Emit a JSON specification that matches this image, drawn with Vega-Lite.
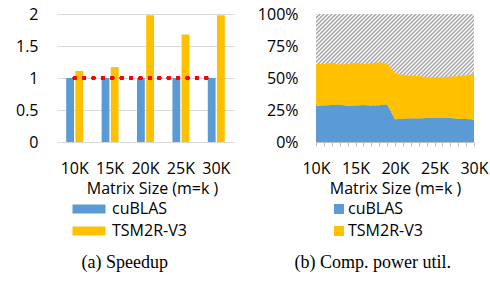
{
  "$schema": "https://vega.github.io/schema/vega-lite/v6.json",
  "background": "white",
  "padding": {"left": 15, "top": 6, "right": 0, "bottom": 0},
  "spacing": 23,
  "config": {
    "font": "Open Sans",
    "view": {"stroke": null},
    "axis": {"labelFont": "Open Sans", "labelFontSize": 16, "labelColor": "#000", "titleFont": "Open Sans", "titleFontSize": 16, "titleFontWeight": "normal", "titleColor": "#000"},
    "legend": {"labelFont": "Open Sans", "labelFontSize": 16, "labelColor": "#000"},
    "title": {"font": "Liberation Serif", "fontSize": 18, "fontWeight": "normal", "color": "#000", "orient": "bottom", "anchor": "middle", "frame": "bounds", "offset": 15}
  },
  "resolve": {"scale": {"color": "independent"}, "legend": {"color": "independent"}},
  "hconcat": [
    {
      "title": {"text": "(a) Speedup"},
      "width": 177,
      "height": 128,
      "data": {"values": [
        {"size": "10K", "impl": "cuBLAS", "speedup": 1},
        {"size": "10K", "impl": "TSM2R-V3", "speedup": 1.11},
        {"size": "15K", "impl": "cuBLAS", "speedup": 1},
        {"size": "15K", "impl": "TSM2R-V3", "speedup": 1.17},
        {"size": "20K", "impl": "cuBLAS", "speedup": 1},
        {"size": "20K", "impl": "TSM2R-V3", "speedup": 1.98},
        {"size": "25K", "impl": "cuBLAS", "speedup": 1},
        {"size": "25K", "impl": "TSM2R-V3", "speedup": 1.68},
        {"size": "30K", "impl": "cuBLAS", "speedup": 1},
        {"size": "30K", "impl": "TSM2R-V3", "speedup": 1.98}
      ]},
      "resolve": {"axis": {"x": "independent", "y": "independent"}},
      "layer": [
        {
          "mark": {"type": "bar"},
          "encoding": {
            "x": {"field": "size", "type": "nominal", "scale": {"paddingInner": 0.52, "paddingOuter": 0.26},
                  "axis": {"title": "Matrix Size (m=k )", "labelAngle": 0, "domain": false, "ticks": false, "labelPadding": 18, "titlePadding": 4, "titleX": 95}},
            "xOffset": {"field": "impl", "type": "nominal", "sort": ["cuBLAS", "TSM2R-V3"], "scale": {"paddingInner": 0.15}},
            "y": {"field": "speedup", "type": "quantitative", "scale": {"domain": [0, 2]},
                  "axis": {"title": null, "values": [0, 0.5, 1, 1.5, 2], "format": "~g", "domain": false, "ticks": false, "labelPadding": 19, "gridColor": "#d9d9d9"}},
            "color": {"field": "impl", "type": "nominal", "scale": {"domain": ["cuBLAS", "TSM2R-V3"], "range": ["#5b9bd5", "#ffc000"]},
                      "legend": {"title": null, "orient": "none", "legendX": 24, "legendY": 187, "padding": 0, "symbolType": "M-3.67,-1H3.67V1H-3.67Z", "symbolSize": 81, "symbolStrokeWidth": 0, "labelOffset": 15, "rowPadding": 6}}
          }
        },
        {
          "mark": {"type": "rule", "color": "#ff0000", "strokeWidth": 4, "strokeCap": "round", "strokeDash": [0, 9.4]},
          "encoding": {
            "x": {"datum": "10K", "axis": null},
            "x2": {"datum": "30K", "bandPosition": 0},
            "y": {"datum": 1, "axis": null}
          }
        }
      ]
    },
    {
      "title": {"text": "(b) Comp. power util."},
      "width": 158,
      "height": 128,
      "data": {"values": [
        {"k": 10, "impl": "cuBLAS", "util": 28.3}, {"k": 10, "impl": "TSM2R-V3", "util": 32.7},
        {"k": 11, "impl": "cuBLAS", "util": 28.5}, {"k": 11, "impl": "TSM2R-V3", "util": 32.5},
        {"k": 12, "impl": "cuBLAS", "util": 29.0}, {"k": 12, "impl": "TSM2R-V3", "util": 33.0},
        {"k": 13, "impl": "cuBLAS", "util": 29.3}, {"k": 13, "impl": "TSM2R-V3", "util": 31.2},
        {"k": 14, "impl": "cuBLAS", "util": 28.2}, {"k": 14, "impl": "TSM2R-V3", "util": 32.8},
        {"k": 15, "impl": "cuBLAS", "util": 28.6}, {"k": 15, "impl": "TSM2R-V3", "util": 33.4},
        {"k": 16, "impl": "cuBLAS", "util": 29.0}, {"k": 16, "impl": "TSM2R-V3", "util": 32.0},
        {"k": 17, "impl": "cuBLAS", "util": 28.6}, {"k": 17, "impl": "TSM2R-V3", "util": 32.7},
        {"k": 18, "impl": "cuBLAS", "util": 28.8}, {"k": 18, "impl": "TSM2R-V3", "util": 33.5},
        {"k": 19, "impl": "cuBLAS", "util": 29.3}, {"k": 19, "impl": "TSM2R-V3", "util": 31.9},
        {"k": 20, "impl": "cuBLAS", "util": 17.8}, {"k": 20, "impl": "TSM2R-V3", "util": 36.2},
        {"k": 21, "impl": "cuBLAS", "util": 18.2}, {"k": 21, "impl": "TSM2R-V3", "util": 34.1},
        {"k": 22, "impl": "cuBLAS", "util": 18.6}, {"k": 22, "impl": "TSM2R-V3", "util": 33.2},
        {"k": 23, "impl": "cuBLAS", "util": 18.3}, {"k": 23, "impl": "TSM2R-V3", "util": 33.2},
        {"k": 24, "impl": "cuBLAS", "util": 18.8}, {"k": 24, "impl": "TSM2R-V3", "util": 31.7},
        {"k": 25, "impl": "cuBLAS", "util": 19.0}, {"k": 25, "impl": "TSM2R-V3", "util": 31.3},
        {"k": 26, "impl": "cuBLAS", "util": 18.8}, {"k": 26, "impl": "TSM2R-V3", "util": 31.7},
        {"k": 27, "impl": "cuBLAS", "util": 18.7}, {"k": 27, "impl": "TSM2R-V3", "util": 32.3},
        {"k": 28, "impl": "cuBLAS", "util": 18.2}, {"k": 28, "impl": "TSM2R-V3", "util": 33.4},
        {"k": 29, "impl": "cuBLAS", "util": 18.0}, {"k": 29, "impl": "TSM2R-V3", "util": 34.2},
        {"k": 30, "impl": "cuBLAS", "util": 17.6}, {"k": 30, "impl": "TSM2R-V3", "util": 35.4}
      ]},
      "resolve": {"axis": {"x": "independent", "y": "independent"}},
      "layer": [
        {
          "mark": {"type": "area", "fill": {"gradient": "linear", "x1": 0, "y1": 0, "x2": 1.093, "y2": 0.885, "stops": [
            {"offset": 0, "color": "#a0a0a0"}, {"offset": 0.007, "color": "#fff"}, {"offset": 0.014, "color": "#a0a0a0"}, {"offset": 0.021, "color": "#fff"},
            {"offset": 0.028, "color": "#a0a0a0"}, {"offset": 0.035, "color": "#fff"}, {"offset": 0.042, "color": "#a0a0a0"}, {"offset": 0.049, "color": "#fff"},
            {"offset": 0.056, "color": "#a0a0a0"}, {"offset": 0.063, "color": "#fff"}, {"offset": 0.07, "color": "#a0a0a0"}, {"offset": 0.077, "color": "#fff"},
            {"offset": 0.084, "color": "#a0a0a0"}, {"offset": 0.091, "color": "#fff"}, {"offset": 0.098, "color": "#a0a0a0"}, {"offset": 0.105, "color": "#fff"},
            {"offset": 0.112, "color": "#a0a0a0"}, {"offset": 0.119, "color": "#fff"}, {"offset": 0.126, "color": "#a0a0a0"}, {"offset": 0.133, "color": "#fff"},
            {"offset": 0.14, "color": "#a0a0a0"}, {"offset": 0.147, "color": "#fff"}, {"offset": 0.154, "color": "#a0a0a0"}, {"offset": 0.161, "color": "#fff"},
            {"offset": 0.168, "color": "#a0a0a0"}, {"offset": 0.175, "color": "#fff"}, {"offset": 0.182, "color": "#a0a0a0"}, {"offset": 0.189, "color": "#fff"},
            {"offset": 0.196, "color": "#a0a0a0"}, {"offset": 0.203, "color": "#fff"}, {"offset": 0.21, "color": "#a0a0a0"}, {"offset": 0.217, "color": "#fff"},
            {"offset": 0.224, "color": "#a0a0a0"}, {"offset": 0.231, "color": "#fff"}, {"offset": 0.238, "color": "#a0a0a0"}, {"offset": 0.245, "color": "#fff"},
            {"offset": 0.252, "color": "#a0a0a0"}, {"offset": 0.259, "color": "#fff"}, {"offset": 0.266, "color": "#a0a0a0"}, {"offset": 0.273, "color": "#fff"},
            {"offset": 0.28, "color": "#a0a0a0"}, {"offset": 0.287, "color": "#fff"}, {"offset": 0.294, "color": "#a0a0a0"}, {"offset": 0.301, "color": "#fff"},
            {"offset": 0.308, "color": "#a0a0a0"}, {"offset": 0.315, "color": "#fff"}, {"offset": 0.322, "color": "#a0a0a0"}, {"offset": 0.329, "color": "#fff"},
            {"offset": 0.336, "color": "#a0a0a0"}, {"offset": 0.343, "color": "#fff"}, {"offset": 0.35, "color": "#a0a0a0"}, {"offset": 0.357, "color": "#fff"},
            {"offset": 0.364, "color": "#a0a0a0"}, {"offset": 0.371, "color": "#fff"}, {"offset": 0.378, "color": "#a0a0a0"}, {"offset": 0.385, "color": "#fff"},
            {"offset": 0.392, "color": "#a0a0a0"}, {"offset": 0.399, "color": "#fff"}, {"offset": 0.406, "color": "#a0a0a0"}, {"offset": 0.413, "color": "#fff"},
            {"offset": 0.42, "color": "#a0a0a0"}, {"offset": 0.427, "color": "#fff"}, {"offset": 0.434, "color": "#a0a0a0"}, {"offset": 0.441, "color": "#fff"},
            {"offset": 0.448, "color": "#a0a0a0"}, {"offset": 0.455, "color": "#fff"}, {"offset": 0.462, "color": "#a0a0a0"}, {"offset": 0.469, "color": "#fff"},
            {"offset": 0.476, "color": "#a0a0a0"}, {"offset": 0.483, "color": "#fff"}, {"offset": 0.49, "color": "#a0a0a0"}, {"offset": 0.497, "color": "#fff"},
            {"offset": 0.504, "color": "#a0a0a0"}, {"offset": 0.511, "color": "#fff"}, {"offset": 0.518, "color": "#a0a0a0"}, {"offset": 0.525, "color": "#fff"},
            {"offset": 0.532, "color": "#a0a0a0"}, {"offset": 0.539, "color": "#fff"}, {"offset": 0.546, "color": "#a0a0a0"}, {"offset": 0.553, "color": "#fff"},
            {"offset": 0.56, "color": "#a0a0a0"}, {"offset": 0.567, "color": "#fff"}, {"offset": 0.574, "color": "#a0a0a0"}, {"offset": 0.581, "color": "#fff"},
            {"offset": 0.588, "color": "#a0a0a0"}, {"offset": 0.595, "color": "#fff"}, {"offset": 0.602, "color": "#a0a0a0"}, {"offset": 0.609, "color": "#fff"},
            {"offset": 0.616, "color": "#a0a0a0"}, {"offset": 0.623, "color": "#fff"}, {"offset": 0.63, "color": "#a0a0a0"}, {"offset": 0.637, "color": "#fff"},
            {"offset": 0.644, "color": "#a0a0a0"}, {"offset": 0.651, "color": "#fff"}, {"offset": 0.658, "color": "#a0a0a0"}, {"offset": 0.665, "color": "#fff"},
            {"offset": 0.672, "color": "#a0a0a0"}, {"offset": 0.679, "color": "#fff"}, {"offset": 0.686, "color": "#a0a0a0"}, {"offset": 0.693, "color": "#fff"},
            {"offset": 0.7, "color": "#a0a0a0"}, {"offset": 0.707, "color": "#fff"}, {"offset": 0.714, "color": "#a0a0a0"}, {"offset": 0.721, "color": "#fff"},
            {"offset": 0.728, "color": "#a0a0a0"}, {"offset": 0.735, "color": "#fff"}, {"offset": 0.742, "color": "#a0a0a0"}, {"offset": 0.749, "color": "#fff"},
            {"offset": 0.756, "color": "#a0a0a0"}, {"offset": 0.763, "color": "#fff"}, {"offset": 0.77, "color": "#a0a0a0"}, {"offset": 0.777, "color": "#fff"},
            {"offset": 0.784, "color": "#a0a0a0"}, {"offset": 0.791, "color": "#fff"}, {"offset": 0.798, "color": "#a0a0a0"}, {"offset": 0.805, "color": "#fff"},
            {"offset": 0.812, "color": "#a0a0a0"}, {"offset": 0.819, "color": "#fff"}, {"offset": 0.826, "color": "#a0a0a0"}, {"offset": 0.833, "color": "#fff"},
            {"offset": 0.84, "color": "#a0a0a0"}, {"offset": 0.847, "color": "#fff"}, {"offset": 0.854, "color": "#a0a0a0"}, {"offset": 0.861, "color": "#fff"},
            {"offset": 0.868, "color": "#a0a0a0"}, {"offset": 0.875, "color": "#fff"}, {"offset": 0.882, "color": "#a0a0a0"}, {"offset": 0.889, "color": "#fff"},
            {"offset": 0.896, "color": "#a0a0a0"}, {"offset": 0.903, "color": "#fff"}, {"offset": 0.91, "color": "#a0a0a0"}, {"offset": 0.917, "color": "#fff"},
            {"offset": 0.924, "color": "#a0a0a0"}, {"offset": 0.931, "color": "#fff"}, {"offset": 0.938, "color": "#a0a0a0"}, {"offset": 0.945, "color": "#fff"},
            {"offset": 0.952, "color": "#a0a0a0"}, {"offset": 0.959, "color": "#fff"}, {"offset": 0.966, "color": "#a0a0a0"}, {"offset": 0.973, "color": "#fff"},
            {"offset": 0.98, "color": "#a0a0a0"}, {"offset": 0.987, "color": "#fff"}, {"offset": 0.994, "color": "#a0a0a0"}, {"offset": 1, "color": "#fff"}
          ]}},
          "encoding": {
            "x": {"field": "k", "type": "quantitative", "scale": {"domain": [10, 30], "nice": false, "zero": false}, "axis": null},
            "y": {"datum": 100, "type": "quantitative", "scale": {"domain": [0, 100]}, "axis": null}
          }
        },
        {
          "mark": {"type": "area", "opacity": 1},
          "encoding": {
            "x": {"field": "k", "type": "quantitative", "scale": {"domain": [10, 30], "nice": false, "zero": false},
                  "axis": {"title": "Matrix Size (m=k )", "values": [10,11,12,13,14,15,16,17,18,19,20,21,22,23,24,25,26,27,28,29,30],
                           "labelExpr": "datum.value % 5 === 0 ? datum.value + 'K' : ''", "labelOverlap": false, "labelFlush": false,
                           "grid": false, "domainColor": "#bfbfbf", "tickColor": "#bfbfbf", "tickSize": 4, "labelPadding": 14, "titlePadding": 4}},
            "y": {"field": "util", "type": "quantitative", "stack": "zero", "scale": {"domain": [0, 100]},
                  "axis": {"title": null, "values": [0, 25, 50, 75, 100], "labelExpr": "datum.value + '%'", "domain": false, "ticks": false, "grid": false, "labelPadding": 18}},
            "order": {"field": "impl", "sort": "descending"},
            "color": {"field": "impl", "type": "nominal", "scale": {"domain": ["cuBLAS", "TSM2R-V3"], "range": ["#5b9bd5", "#ffc000"]},
                      "legend": {"title": null, "orient": "none", "legendX": 15, "legendY": 187, "padding": 0, "symbolType": "square", "symbolSize": 100, "symbolStrokeWidth": 0, "labelOffset": 1, "rowPadding": 6}}
          }
        }
      ]
    }
  ]
}
